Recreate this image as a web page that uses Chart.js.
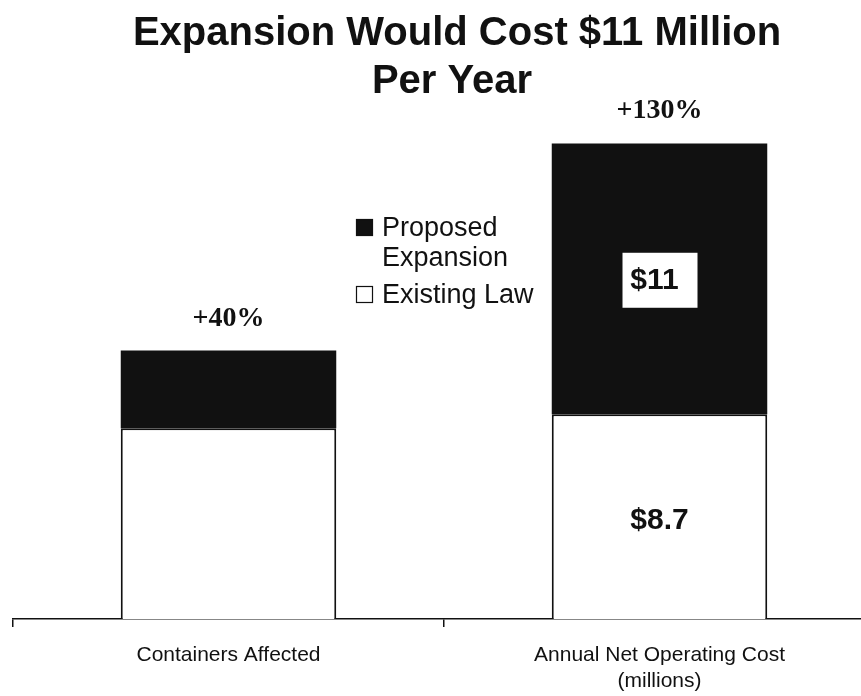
<!DOCTYPE html>
<html lang="en">
<head>
    <meta charset="UTF-8">
    <title>Expansion Would Cost $11 Million Per Year</title>
    <script src="https://cdn.jsdelivr.net/npm/chart.js"></script>
    <style>
        * { margin: 0; padding: 0; box-sizing: border-box; }
        html, body { width: 861px; height: 696px; overflow: hidden; background: #fff; }
        /* the source picture is cropped on the right, so the canvas runs a bit past the window */
        .wrap { position: absolute; left: 0; top: 0; width: 888px; height: 696px; }
    </style>
</head>
<body>
<div class="wrap"><canvas id="chart"></canvas></div>

<script>
    // data (bar heights in the chart's own units)
    const categories = [['Containers Affected'], ['Annual Net Operating Cost', '(millions)']];
    const existingLaw = [8.1, 8.7];
    const proposedExpansion = [3.3, 11.5];
    const increaseLabels = ['+40%', '+130%'];
    const existingText = ['', '$8.7'];
    const proposedText = ['', '$11'];
    const titleLines = ['Expansion Would Cost $11 Million', 'Per Year'];
    const legendLines = [['Proposed', 'Expansion'], ['Existing Law']];

    const SANS = '"Liberation Sans", Arial, sans-serif';
    const SERIF = '"Liberation Serif", "Times New Roman", serif';

    const annotate = {
        id: 'annotate',
        afterDraw(chart) {
            const ctx = chart.ctx;
            const metaEx = chart.getDatasetMeta(0);
            const metaPr = chart.getDatasetMeta(1);
            ctx.save();

            // title
            ctx.fillStyle = '#111';
            ctx.textAlign = 'center';
            ctx.textBaseline = 'alphabetic';
            ctx.font = 'bold 40px ' + SANS;
            ctx.fillText(titleLines[0], 457, 45);
            ctx.fillText(titleLines[1], 452, 93);

            // percent increase above each stack
            ctx.font = 'bold 28px ' + SERIF;
            metaPr.data.forEach((bar, i) => {
                ctx.fillText(increaseLabels[i], bar.x, bar.y - 25);
            });

            // values inside the segments
            ctx.font = 'bold 30px ' + SANS;
            ctx.textBaseline = 'middle';
            metaPr.data.forEach((bar, i) => {
                if (!proposedText[i]) return;
                const cy = (bar.y + bar.base) / 2;
                ctx.fillStyle = '#fff';
                ctx.fillRect(bar.x - 37, cy - 26, 75, 55);
                ctx.fillStyle = '#111';
                ctx.fillText(proposedText[i], bar.x - 5, cy + 2);
            });
            metaEx.data.forEach((bar, i) => {
                if (!existingText[i]) return;
                const cy = (bar.y + bar.base) / 2;
                ctx.fillText(existingText[i], bar.x, cy + 4);
            });

            // legend
            ctx.textAlign = 'left';
            ctx.textBaseline = 'alphabetic';
            ctx.font = '27px ' + SANS;
            const ds = chart.data.datasets;
            const items = [
                { ds: ds[1], lines: legendLines[0], y: 219 },
                { ds: ds[0], lines: legendLines[1], y: 286 }
            ];
            items.forEach(it => {
                ctx.fillStyle = it.ds.backgroundColor;
                ctx.fillRect(356, it.y, 17, 17);
                ctx.strokeStyle = '#111';
                ctx.lineWidth = 1.2;
                ctx.strokeRect(356.5, it.y + 0.5, 16, 16);
                ctx.fillStyle = '#111';
                it.lines.forEach((t, k) => {
                    ctx.fillText(t, 382, it.y + 17 + k * 30);
                });
            });
            ctx.restore();
        }
    };

    new Chart(document.getElementById('chart'), {
        type: 'bar',
        data: {
            labels: categories,
            datasets: [
                {
                    label: 'Existing Law',
                    data: existingLaw,
                    backgroundColor: '#ffffff',
                    borderColor: '#111111',
                    borderWidth: 2
                },
                {
                    label: 'Proposed Expansion',
                    data: proposedExpansion,
                    backgroundColor: '#111111',
                    borderWidth: 0
                }
            ]
        },
        options: {
            responsive: true,
            maintainAspectRatio: false,
            animation: false,
            categoryPercentage: 1,
            barPercentage: 0.5,
            layout: { padding: { top: 101, left: 13, right: 13, bottom: 0 } },
            plugins: {
                legend: { display: false },
                title: { display: false },
                tooltip: { enabled: false }
            },
            scales: {
                x: {
                    stacked: true,
                    grid: {
                        display: true,
                        drawOnChartArea: false,
                        drawTicks: true,
                        tickLength: 8,
                        lineWidth: 1.5,
                        color: '#111'
                    },
                    border: { display: true, color: '#111', width: 1.5 },
                    ticks: {
                        color: '#111',
                        padding: 16,
                        maxRotation: 0,
                        font: { family: SANS, size: 21 }
                    },
                    afterFit(scale) { scale.height = 77; }
                },
                y: {
                    stacked: true,
                    display: false,
                    min: 0,
                    max: 22
                }
            }
        },
        plugins: [annotate]
    });
</script>
</body>
</html>
